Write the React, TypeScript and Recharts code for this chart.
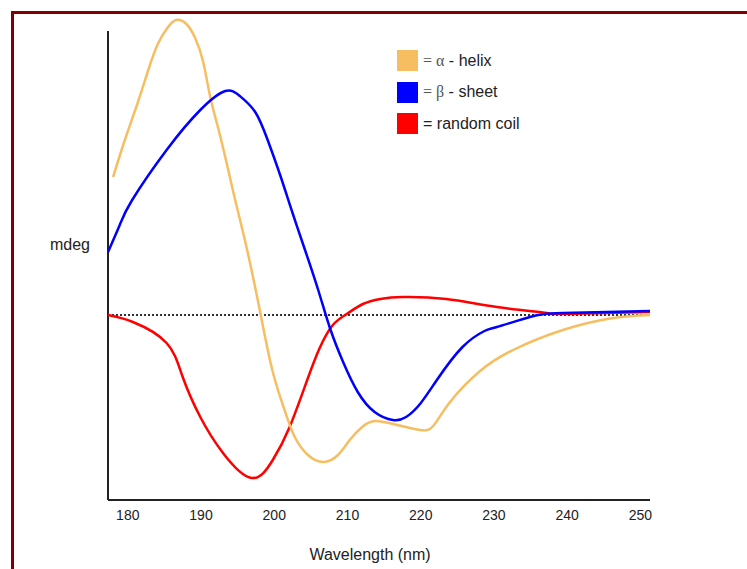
import { LineChart, Line, XAxis, YAxis, ReferenceLine } from "recharts";

// wavelength (nm) / mdeg pairs, arbitrary CD units
const helixWl = [178.0, 179.6, 181.3, 182.8, 184.1, 185.4, 186.6, 188.0, 189.2, 190.3, 191.2, 192.3, 193.4, 194.6, 196.3, 198.1, 199.8, 201.5, 202.8, 204.6, 206.7, 208.7, 210.3, 212.0, 213.8, 216.8, 219.9, 221.7, 224.0, 228.1, 232.6, 239.4, 246.3, 251.3];
const helixMdeg = [13.8, 17.5, 21.1, 24.5, 27.1, 28.7, 29.5, 29.1, 27.7, 25.3, 22.0, 18.8, 15.5, 11.7, 6.5, 0.2, -5.7, -9.7, -12.2, -14.0, -14.7, -14.0, -12.5, -11.2, -10.6, -11.0, -11.5, -11.1, -8.7, -5.6, -3.5, -1.5, -0.3, 0.0];

const sheetWl = [177.3, 178.9, 180.6, 185.3, 189.9, 193.3, 195.3, 197.4, 199.1, 200.8, 202.5, 204.2, 206.0, 207.6, 209.4, 211.4, 213.7, 216.2, 218.0, 219.9, 222.2, 225.7, 228.7, 230.4, 234.9, 239.4, 251.3];
const sheetMdeg = [6.3, 9.0, 11.5, 16.5, 20.5, 22.4, 21.9, 20.3, 17.5, 14.0, 10.2, 6.5, 2.5, -1.3, -4.7, -7.7, -9.7, -10.5, -10.2, -8.9, -6.5, -3.2, -1.6, -1.2, -0.2, 0.2, 0.4];

const coilWl = [177.3, 180.7, 185.3, 187.5, 189.9, 193.0, 196.9, 199.8, 202.1, 204.5, 206.2, 208.0, 209.9, 212.1, 214.5, 217.5, 223.5, 230.4, 237.2, 239.4, 251.3];
const coilMdeg = [0, -0.7, -2.8, -6.2, -10.2, -13.8, -16.3, -14.5, -11.2, -6.5, -3.3, -1.0, 0.1, 1.1, 1.6, 1.8, 1.6, 0.8, 0.2, 0.1, 0.3];

const xTicks = [180, 190, 200, 210, 220, 230, 240, 250];

const toRows = (wl: number[], v: number[]) => wl.map((w, i) => ({ wl: w, mdeg: v[i] }));

const HELIX = "#F7BE61";
const SHEET = "#0000FF";
const COIL = "#FF0000";
const FONT = "'Liberation Sans', Arial, sans-serif";

function LegendBox() {
  const rows = [
    { color: HELIX, sym: "\u03B1", rest: " - helix" },
    { color: SHEET, sym: "\u03B2", rest: " - sheet" },
    { color: COIL, sym: "", rest: "random coil" },
  ];
  return (
    <div style={{ position: "absolute", left: 397, top: 45, fontFamily: FONT, fontSize: 16, color: "#222" }}>
      {rows.map((r) => (
        <div key={r.rest} style={{ display: "flex", alignItems: "center", height: 31.5 }}>
          <span style={{ width: 21, height: 21, background: r.color, display: "inline-block", marginRight: 5 }} />
          <span>
            {r.sym ? (
              <span style={{ fontFamily: "'Liberation Serif', serif", color: "#555" }}>= {r.sym}</span>
            ) : (
              "= "
            )}
            {r.rest}
          </span>
        </div>
      ))}
    </div>
  );
}

export default function App() {
  return (
    <div style={{ position: "absolute", left: 0, top: 0, width: 747, height: 569, overflow: "hidden", background: "#fff" }}>
      <div
        style={{
          position: "absolute",
          left: 11,
          top: 11,
          width: 736,
          height: 558,
          borderTop: "3px solid #800000",
          borderLeft: "3px solid #800000",
          boxSizing: "border-box",
        }}
      />
      <div style={{ position: "absolute", left: 0, top: 0 }}>
        <LineChart width={747} height={569} margin={{ top: 10, right: 97, bottom: 0, left: 0 }}>
          <XAxis
            dataKey="wl"
            type="number"
            domain={[177.3, 251.3]}
            allowDataOverflow
            ticks={xTicks}
            height={69}
            tickLine={false}
            tickMargin={4}
            axisLine={{ stroke: "#222", strokeWidth: 2 }}
            tick={{ fill: "#222", fontSize: 14, fontFamily: FONT }}
            label={{ value: "Wavelength (nm)", position: "insideBottom", offset: 9, dx: -9, fill: "#222", fontSize: 16, fontFamily: FONT }}
          />
          <YAxis
            type="number"
            domain={[-18.5, 30.5]}
            allowDataOverflow
            width={108}
            axisLine={false}
            tickLine={false}
            tick={false}
            label={{ value: "mdeg", position: "center", dx: 16, dy: -11, fill: "#222", fontSize: 16, fontFamily: FONT }}
          />
          <ReferenceLine
            segment={[
              { x: 177.3, y: 28.4 },
              { x: 177.3, y: -18.5 },
            ]}
            stroke="#222"
            strokeWidth={2}
          />
          <ReferenceLine y={0} stroke="#333" strokeWidth={2} strokeDasharray="2 2" />
          <Line data={toRows(coilWl, coilMdeg)} dataKey="mdeg" type="natural" stroke={COIL} strokeWidth={2.5} dot={false} isAnimationActive={false} />
          <Line data={toRows(helixWl, helixMdeg)} dataKey="mdeg" type="natural" stroke={HELIX} strokeWidth={2.5} dot={false} isAnimationActive={false} />
          <Line data={toRows(sheetWl, sheetMdeg)} dataKey="mdeg" type="natural" stroke={SHEET} strokeWidth={2.5} dot={false} isAnimationActive={false} />
        </LineChart>
      </div>
      <LegendBox />
    </div>
  );
}
